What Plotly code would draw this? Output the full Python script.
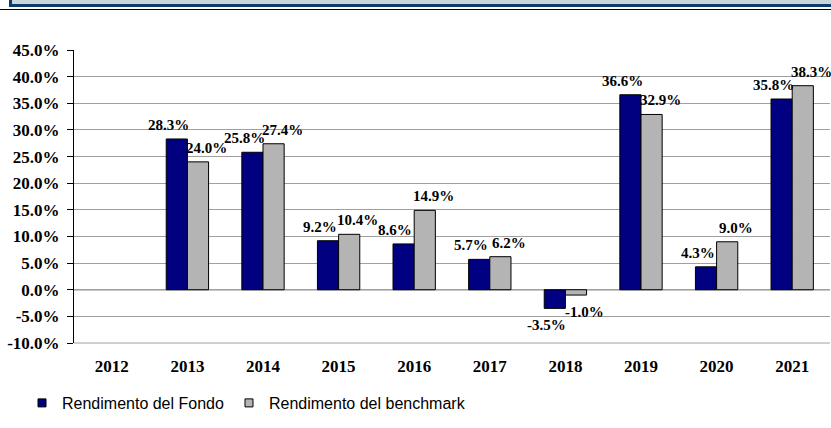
import plotly.graph_objects as go

years = ["2012", "2013", "2014", "2015", "2016", "2017", "2018", "2019", "2020", "2021"]
fondo = [None, 28.3, 25.8, 9.2, 8.6, 5.7, -3.5, 36.6, 4.3, 35.8]
benchmark = [None, 24.0, 27.4, 10.4, 14.9, 6.2, -1.0, 32.9, 9.0, 38.3]
tick_vals = [-10, -5, 0, 5, 10, 15, 20, 25, 30, 35, 40, 45]
tick_text = [f"{v:.1f}%" for v in tick_vals]

W, H = 831, 428
ML, MR, MT, MB = 74, 1, 50, 85
PW, PH = W - ML - MR, H - MT - MB

def px_x(x):
    return (x - ML) / PW

def px_y(y):
    return (H - MB - y) / PH

serif = "Liberation Serif, Times New Roman, serif"
FUND_COLOR = "#000080"
BENCH_COLOR = "#b4b4b4"

fig = go.Figure()
fig.add_trace(go.Bar(
    x=years, y=fondo, name="Rendimento del Fondo", showlegend=False,
    legendgroup="f",
    marker=dict(color=FUND_COLOR, line=dict(color="#000000", width=1)),
))
fig.add_trace(go.Bar(
    x=years, y=benchmark, name="Rendimento del benchmark", showlegend=False,
    legendgroup="b",
    marker=dict(color=BENCH_COLOR, line=dict(color="#000000", width=1)),
))
# legend proxies (small square symbols), no visible data
fig.add_trace(go.Scatter(
    x=[years[0]], y=[None], mode="markers", name="Rendimento del Fondo", legendgroup="f",
    marker=dict(symbol="square", size=8, color=FUND_COLOR, line=dict(color="#000000", width=1)),
))
fig.add_trace(go.Scatter(
    x=[years[0]], y=[None], mode="markers", name="Rendimento del benchmark", legendgroup="b",
    marker=dict(symbol="square", size=8, color=BENCH_COLOR, line=dict(color="#000000", width=1)),
))

# data labels (x given as category index on the category axis)
annotations = []
for series, xs in ((fondo, -19), (benchmark, 19)):
    for i, v in enumerate(series):
        if v is None:
            continue
        annotations.append(dict(
            x=i, y=v, xref="x", yref="y", text=f"{v:.1f}%", showarrow=False,
            xshift=xs, yshift=(14 if v >= 0 else -17), xanchor="center", yanchor="middle",
            font=dict(family=serif, size=15, color="#000000", weight="bold"),
        ))

DARK = "#0b3d68"
shapes = [
    # header band
    dict(type="rect", xref="paper", yref="paper",
         x0=px_x(9), x1=px_x(840), y0=px_y(7), y1=px_y(-5),
         fillcolor="#c8d5d9", line=dict(width=0), layer="above"),
    dict(type="rect", xref="paper", yref="paper",
         x0=px_x(9), x1=px_x(840), y0=px_y(7), y1=px_y(4),
         fillcolor=DARK, line=dict(width=0), layer="above"),
    dict(type="rect", xref="paper", yref="paper",
         x0=px_x(9), x1=px_x(12), y0=px_y(7), y1=px_y(-5),
         fillcolor=DARK, line=dict(width=0), layer="above"),
    dict(type="line", xref="paper", yref="paper",
         x0=px_x(0), x1=px_x(840), y0=px_y(9.5), y1=px_y(9.5),
         line=dict(color="#000000", width=1.2)),
    # zero line
    dict(type="line", xref="paper", yref="y", x0=0, x1=1, y0=0, y1=0,
         line=dict(color="#000000", width=1), layer="below"),
    # bottom border line
    dict(type="line", xref="paper", yref="paper", x0=0, x1=1, y0=0, y1=0,
         line=dict(color="#a0a0a0", width=1)),
]

fig.update_layout(
    width=W, height=H,
    margin=dict(l=ML, r=MR, t=MT, b=MB),
    paper_bgcolor="#ffffff", plot_bgcolor="#ffffff",
    barmode="group", bargap=0.44, bargroupgap=0,
    showlegend=True,
    legend=dict(orientation="h", x=px_x(22), xanchor="left",
                y=px_y(403), yanchor="middle",
                font=dict(family="Liberation Sans, Arial, sans-serif", size=16, color="#000000"),
                itemwidth=30, tracegroupgap=0, bgcolor="rgba(0,0,0,0)"),
    shapes=shapes,
    annotations=annotations,
    xaxis=dict(
        type="category", categoryorder="array", categoryarray=years,
        range=[-0.5, len(years) - 0.5],
        showline=False, ticks="", showgrid=False,
        tickfont=dict(family=serif, size=17, color="#000000", weight="bold"),
        ticklabelstandoff=11,
    ),
    yaxis=dict(
        range=[-10, 45], tickvals=tick_vals, ticktext=tick_text,
        showgrid=True, gridcolor="#a0a0a0", gridwidth=1,
        showline=True, linecolor="#000000", linewidth=1,
        ticks="outside", ticklen=6, tickcolor="#000000",
        tickfont=dict(family=serif, size=17, color="#000000", weight="bold"),
        ticklabelstandoff=4,
        zeroline=False,
    ),
    font=dict(family=serif, size=13, color="#000000"),
)

fig.write_html("out.html", config={"displayModeBar": False},
               post_script="document.body.style.margin='0px';")
